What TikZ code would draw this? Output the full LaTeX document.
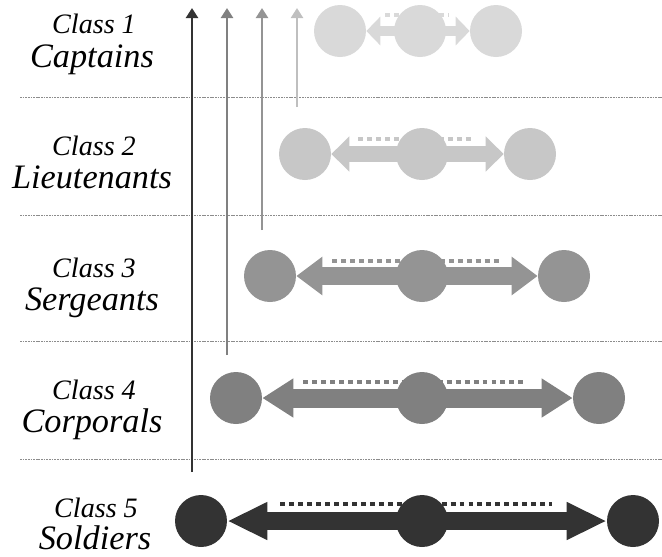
\documentclass[tikz,border=0pt]{standalone}
\usepackage{fontspec}
\setmainfont{Liberation Serif}
\usetikzlibrary{arrows.meta, calc}

\begin{document}
\begin{tikzpicture}[x=0.02cm, y=-0.02cm,
    rank/.style={circle, fill=#1, inner sep=0pt, minimum size=1.04cm},
    cls/.style={anchor=base, inner sep=0pt, font=\itshape\fontsize{16}{16}\selectfont},
    title/.style={anchor=base, inner sep=0pt, font=\itshape\fontsize{19.5}{19.5}\selectfont},
    sep/.style={black!45, line width=0.5pt, dash pattern=on 1pt off 0.5pt},
    dots/.style={draw=#1, line width=2.3pt, dash pattern=on 2.8pt off 2.3pt},
    fat/.style n args={4}{draw=#1, line width=#2,
        arrows={Triangle[length=#3,width=#4]-Triangle[length=#3,width=#4]}},
    riser/.style={draw=#1, line width=1.7pt, -{Triangle[length=5.7pt,width=6.8pt]}}]
    \useasboundingbox (0,0) rectangle (662,556);

    \draw[sep] (20,97) -- (662,97);
    \draw[sep] (20,215) -- (662,215);
    \draw[sep] (20,341) -- (662,341);
    \draw[sep] (20,459) -- (662,459);

    \node[cls] (cls1) at (94,33) {Class 1};
    \node[title] (name1) at (92,67) {Captains};
    \node[cls] (cls2) at (94,155) {Class 2};
    \node[title] (name2) at (92,188) {Lieutenants};
    \node[cls] (cls3) at (94,277) {Class 3};
    \node[title] (name3) at (92,310) {Sergeants};
    \node[cls] (cls4) at (94,399) {Class 4};
    \node[title] (name4) at (92,432) {Corporals};
    \node[cls] (cls5) at (96,517) {Class 5};
    \node[title] (name5) at (95,549) {Soldiers};

    \coordinate (b5) at (192,472);
    \coordinate (t5) at (192,8);
    \coordinate (b4) at (227,355);
    \coordinate (t4) at (227,8);
    \coordinate (b3) at (262,230);
    \coordinate (t3) at (262,8);
    \coordinate (b2) at (297,107);
    \coordinate (t2) at (297,8);
    \draw[riser=black!80] (b5) -- (t5);
    \draw[riser=black!50] (b4) -- (t4);
    \draw[riser=black!42, line width=1.5pt] (b3) -- (t3);
    \draw[riser=black!25, line width=1.4pt] (b2) -- (t2);

    \node[rank=black!15] (cap l) at (340,31) {};
    \node[rank=black!15] (cap r) at (496,31) {};
    \draw[dots=black!15] ($(cap l.east)+(19,-16)$) -- ($(cap r.west)+(-21,-16)$);
    \draw[fat={black!15}{6.2pt}{8pt}{16pt}] (cap l) -- (cap r);
    \node[rank=black!15] (cap m) at (420,31) {};

    \node[rank=black!22] (lt l) at (305,154) {};
    \node[rank=black!22] (lt r) at (530,154) {};
    \draw[dots=black!22] ($(lt l.east)+(27,-15)$) -- ($(lt r.west)+(-29,-15)$);
    \draw[fat={black!22}{9.1pt}{10.2pt}{19.4pt}] (lt l) -- (lt r);
    \node[rank=black!22] (lt m) at (422,154) {};

    \node[rank=black!42] (sg l) at (270,276) {};
    \node[rank=black!42] (sg r) at (564,276) {};
    \draw[dots=black!42] ($(sg l.east)+(36,-15)$) -- ($(sg r.west)+(-38,-15)$);
    \draw[fat={black!42}{9.7pt}{14.8pt}{21pt}] (sg l) -- (sg r);
    \node[rank=black!42] (sg m) at (422,276) {};

    \node[rank=black!50] (cp l) at (236,398) {};
    \node[rank=black!50] (cp r) at (599,398) {};
    \draw[dots=black!50] ($(cp l.east)+(41,-16)$) -- ($(cp r.west)+(-50,-16)$);
    \draw[fat={black!50}{10.8pt}{17.6pt}{21pt}] (cp l) -- (cp r);
    \node[rank=black!50] (cp m) at (422,398) {};

    \node[rank=black!80] (sd l) at (201,521) {};
    \node[rank=black!80] (sd r) at (633,521) {};
    \draw[dots=black!80] ($(sd l.east)+(53,-17)$) -- ($(sd r.west)+(-55,-17)$);
    \draw[fat={black!80}{10.2pt}{22.8pt}{20pt}] (sd l) -- (sd r);
    \node[rank=black!80] (sd m) at (422,521) {};
\end{tikzpicture}
\end{document}
